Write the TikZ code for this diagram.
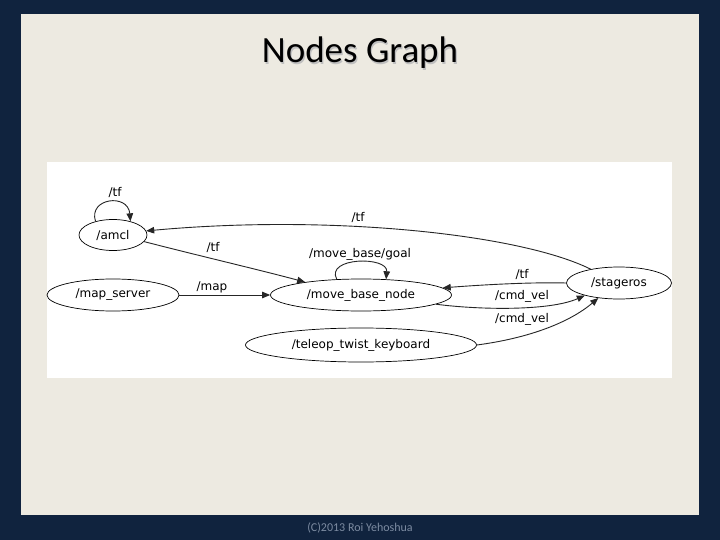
\documentclass[tikz,border=0pt]{standalone}
\usepackage{fontspec}
\setmainfont{DejaVu Sans}
\newfontfamily\titlefont{Carlito}
\usetikzlibrary{shapes.geometric,arrows.meta}
\definecolor{navy}{HTML}{10233E}
\definecolor{panel}{HTML}{EDEAE1}
\definecolor{foot}{HTML}{7C8BA1}
\definecolor{edgec}{HTML}{262626}
\tikzset{
  rosnode/.style={draw=black, line width=0.7pt, ellipse, inner sep=0pt, font=\fontsize{12}{14}\selectfont},
  topic/.style={draw=edgec, line width=0.9pt, -{Triangle[length=8pt,width=6.5pt]}},
  lbl/.style={font=\fontsize{12}{14}\selectfont, inner sep=0pt}
}
\begin{document}
\begin{tikzpicture}[x=1pt,y=-1pt]
\useasboundingbox (0,0) rectangle (720,540);
\fill[navy] (0,0) rectangle (720,540);
\fill[panel] (21,14) rectangle (699,515);
\fill[white] (47,162) rectangle (672,378);
% title
\node[text=black!25, font=\titlefont\fontsize{37}{40}\selectfont] (titleshadow) at (361.2,54.2) {Nodes Graph};
\node[text=black, font=\titlefont\fontsize{37}{40}\selectfont] (title) at (360,53) {Nodes Graph};
\node[text=foot, font=\titlefont\fontsize{12}{14}\selectfont] (footer) at (360,528) {(C)2013 Roi Yehoshua};
% nodes
\node[rosnode, minimum width=68pt, minimum height=31pt] (amcl) at (113,235) {/amcl};
\node[rosnode, minimum width=132pt, minimum height=32pt] (mapserver) at (113,295) {/map\_server};
\node[rosnode, minimum width=181pt, minimum height=32pt] (mbn) at (361,295) {/move\_base\_node};
\node[rosnode, minimum width=231pt, minimum height=34pt] (teleop) at (361,345) {/teleop\_twist\_keyboard};
\node[rosnode, minimum width=105pt, minimum height=32pt] (stageros) at (619,283) {/stageros};
% edges
\draw[topic] (amcl.142) .. controls (88,198) and (128,193) .. (amcl.38);
\node[lbl] (l1) at (115,192) {/tf};
\draw[topic] (stageros.154) .. controls (520,234) and (330,214) .. (amcl.7);
\node[lbl] (l2) at (358,217) {/tf};
\draw[topic] (amcl.-12) .. controls (200,256) and (260,270) .. (mbn.167);
\node[lbl] (l3) at (213,247) {/tf};
\draw[topic] (mapserver) -- (mbn);
\node[lbl] (l4) at (212,287) {/map};
\draw[topic] (mbn.147) .. controls (325,257) and (388,256) .. (mbn.32);
\node[lbl] (l5) at (360,254) {/move\_base/goal};
\draw[topic] (stageros.west) .. controls (530,282) and (480,285) .. (mbn.5);
\node[lbl] (l6) at (522,274) {/tf};
\draw[topic] (mbn.-7) .. controls (480,310) and (550,311) .. (stageros.-160);
\node[lbl] (l7) at (522,296) {/cmd\_vel};
\draw[topic] (teleop.east) .. controls (530,338) and (570,322) .. (stageros.-144);
\node[lbl] (l8) at (522,319) {/cmd\_vel};
\end{tikzpicture}
\end{document}
